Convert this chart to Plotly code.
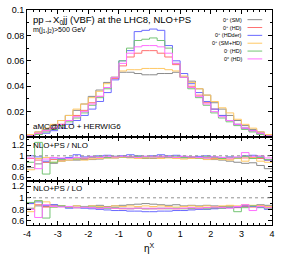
import numpy as np
import plotly.graph_objects as go
from plotly.subplots import make_subplots

# bin edges in eta^X
eta_edges = [-4 + 0.25 * i for i in range(33)]

labels = ["0<sup>+</sup> (SM)", "0<sup>+</sup> (HD)", "0<sup>+</sup> (HDder)",
          "0<sup>+</sup> (SM+HD)", "0<sup>-</sup> (HD)", "0<sup>±</sup> (HD)"]
colors = ["#8c8c8c", "#ff7070", "#6a6aff", "#ffc864", "#74c474", "#ff70ff"]

sm = [0.002, 0.004, 0.006, 0.009, 0.013, 0.017, 0.021, 0.026, 0.032, 0.037, 0.043, 0.047, 0.051, 0.051, 0.050, 0.049,
      0.049, 0.050, 0.050, 0.051, 0.047, 0.044, 0.038, 0.033, 0.027, 0.022, 0.017, 0.013, 0.009, 0.006, 0.004, 0.002]
hd = [0.001, 0.003, 0.005, 0.007, 0.010, 0.013, 0.017, 0.021, 0.027, 0.032, 0.039, 0.046, 0.056, 0.063, 0.066, 0.068,
      0.068, 0.066, 0.063, 0.057, 0.047, 0.040, 0.033, 0.027, 0.022, 0.017, 0.013, 0.010, 0.007, 0.005, 0.003, 0.001]
hdder = [0.001, 0.002, 0.003, 0.005, 0.007, 0.010, 0.013, 0.017, 0.022, 0.028, 0.035, 0.045, 0.060, 0.068, 0.083, 0.084,
         0.085, 0.084, 0.072, 0.060, 0.050, 0.042, 0.035, 0.028, 0.022, 0.017, 0.013, 0.010, 0.007, 0.005, 0.003, 0.001]
smhd = [0.002, 0.004, 0.007, 0.010, 0.013, 0.017, 0.022, 0.026, 0.031, 0.036, 0.042, 0.047, 0.052, 0.053, 0.053, 0.054,
        0.054, 0.054, 0.053, 0.052, 0.048, 0.043, 0.038, 0.033, 0.028, 0.023, 0.019, 0.014, 0.010, 0.007, 0.004, 0.002]
minus_hd = [0.001, 0.002, 0.004, 0.006, 0.009, 0.012, 0.015, 0.019, 0.025, 0.031, 0.038, 0.047, 0.060, 0.070, 0.076, 0.077,
            0.078, 0.076, 0.070, 0.058, 0.047, 0.038, 0.031, 0.025, 0.019, 0.015, 0.012, 0.009, 0.006, 0.004, 0.002, 0.001]
pm_hd = [0.001, 0.003, 0.005, 0.007, 0.010, 0.013, 0.016, 0.020, 0.026, 0.032, 0.039, 0.047, 0.058, 0.066, 0.071, 0.072,
         0.072, 0.071, 0.066, 0.058, 0.047, 0.039, 0.032, 0.026, 0.020, 0.016, 0.013, 0.010, 0.007, 0.005, 0.003, 0.001]

r_nlo_sm = [0.78, 0.85, 0.88, 0.86, 0.90, 0.92, 0.92, 0.93, 0.93, 0.94, 0.96, 0.96, 0.97, 0.98, 0.96, 0.95,
            0.95, 0.96, 0.97, 0.96, 0.96, 0.95, 0.96, 0.94, 0.93, 0.92, 0.90, 0.88, 0.86, 0.87, 0.82, 0.76]
r_nlo_hd = [0.95, 0.92, 0.88, 0.93, 0.92, 0.95, 0.94, 0.95, 0.96, 0.97, 0.97, 0.98, 0.99, 0.98, 0.98, 0.98,
            0.99, 0.98, 0.98, 0.97, 0.98, 0.97, 0.96, 0.97, 0.95, 0.96, 0.94, 0.95, 0.96, 0.97, 0.95, 0.92]
r_nlo_hdder = [1.00, 0.98, 0.90, 0.96, 0.95, 0.97, 1.02, 0.98, 0.99, 1.00, 1.01, 0.99, 1.00, 1.02, 1.00, 0.99,
               1.00, 1.02, 1.00, 1.01, 0.99, 0.98, 0.99, 1.00, 0.98, 0.97, 0.98, 0.96, 1.00, 1.01, 0.98, 0.92]
r_nlo_smhd = [0.74, 0.95, 0.97, 0.88, 0.90, 0.92, 0.93, 0.92, 0.94, 0.95, 0.96, 0.96, 0.97, 0.96, 0.95, 0.96,
              0.96, 0.95, 0.96, 0.95, 0.94, 0.95, 0.95, 0.93, 0.94, 0.93, 0.92, 0.95, 0.90, 0.96, 0.90, 0.88]
r_nlo_minus = [0.88, 1.25, 0.66, 0.88, 0.93, 0.95, 0.94, 0.96, 0.97, 0.98, 0.97, 0.99, 0.98, 0.97, 0.99, 0.98,
               0.98, 0.99, 0.97, 0.98, 0.97, 0.98, 0.96, 0.98, 0.97, 0.95, 0.97, 0.96, 0.99, 0.95, 0.97, 0.93]
r_nlo_pm = [0.96, 0.76, 0.94, 0.97, 0.96, 0.95, 0.97, 0.96, 0.98, 0.97, 0.99, 0.98, 0.99, 0.98, 0.97, 0.99,
            0.98, 0.99, 0.98, 0.97, 0.99, 0.98, 0.97, 0.96, 0.98, 0.97, 0.96, 0.98, 1.06, 0.99, 1.00, 0.96]

r_lo_sm = [0.82, 0.86, 0.85, 0.88, 0.86, 0.85, 0.86, 0.85, 0.86, 0.87, 0.85, 0.86, 0.87, 0.88, 0.89, 0.90,
           0.89, 0.88, 0.87, 0.88, 0.86, 0.87, 0.86, 0.87, 0.86, 0.85, 0.86, 0.85, 0.87, 0.86, 0.88, 0.87]
r_lo_hd = [0.90, 0.88, 0.84, 0.86, 0.85, 0.84, 0.83, 0.84, 0.83, 0.82, 0.83, 0.82, 0.81, 0.82, 0.82, 0.81,
           0.82, 0.81, 0.82, 0.81, 0.82, 0.81, 0.82, 0.83, 0.82, 0.83, 0.84, 0.83, 0.85, 0.84, 0.86, 0.84]
r_lo_hdder = [0.90, 0.93, 0.87, 0.88, 0.85, 0.82, 0.83, 0.82, 0.81, 0.80, 0.79, 0.78, 0.78, 0.77, 0.77, 0.76,
              0.76, 0.77, 0.77, 0.78, 0.78, 0.79, 0.80, 0.80, 0.81, 0.82, 0.83, 0.84, 0.86, 0.85, 0.83, 0.80]
r_lo_smhd = [0.76, 0.95, 0.93, 0.84, 0.86, 0.85, 0.86, 0.85, 0.86, 0.85, 0.84, 0.86, 0.85, 0.86, 0.85, 0.86,
             0.85, 0.86, 0.85, 0.84, 0.85, 0.86, 0.85, 0.86, 0.85, 0.86, 0.87, 0.86, 0.88, 0.87, 0.86, 0.85]
r_lo_minus = [0.92, 0.95, 0.65, 0.84, 0.86, 0.84, 0.83, 0.85, 0.84, 0.83, 0.82, 0.83, 0.82, 0.81, 0.82, 0.81,
              0.81, 0.82, 0.81, 0.82, 0.81, 0.82, 0.82, 0.81, 0.83, 0.82, 0.84, 0.76, 0.83, 0.86, 0.84, 0.82]
r_lo_pm = [0.80, 0.66, 0.88, 0.85, 0.84, 0.85, 0.83, 0.84, 0.83, 0.82, 0.83, 0.82, 0.82, 0.81, 0.82, 0.82,
           0.81, 0.82, 0.82, 0.81, 0.82, 0.83, 0.82, 0.83, 0.84, 0.83, 0.82, 0.85, 0.88, 0.78, 0.85, 0.83]

main_series = [sm, hd, hdder, smhd, minus_hd, pm_hd]
ratio_nlo = [r_nlo_sm, r_nlo_hd, r_nlo_hdder, r_nlo_smhd, r_nlo_minus, r_nlo_pm]
ratio_lo = [r_lo_sm, r_lo_hd, r_lo_hdder, r_lo_smhd, r_lo_minus, r_lo_pm]

xtick_vals = [-4, -3, -2, -1, 0, 1, 2, 3, 4]
xtick_text = ["-4", "-3", "-2", "-1", "0", "1", "2", "3", "4"]
main_yticks = [0, 0.02, 0.04, 0.06, 0.08, 0.1]
main_ytext = ["0", "0.02", "0.04", "0.06", "0.08", "0.1"]
ratio_yticks = [0.6, 0.8, 1.0, 1.2]
ratio_ytext = ["0.6", "0.8", "1", "1.2"]

FONT = "Liberation Sans, Arial, sans-serif"

fig = make_subplots(rows=3, cols=1, shared_xaxes=True, vertical_spacing=0,
                    row_heights=[130, 45, 45])

def step(vals):
    return list(vals) + [vals[-1]]

for row, group in ((1, main_series), (2, ratio_nlo), (3, ratio_lo)):
    for vals, col, lab in zip(group, colors, labels):
        fig.add_trace(go.Scatter(x=eta_edges, y=step(vals), mode="lines",
                                 line=dict(color=col, width=1, shape="hv"),
                                 name=lab, showlegend=False, hoverinfo="skip"), row=row, col=1)

axis_common = dict(showline=True, linecolor="black", linewidth=1, mirror="allticks",
                   ticks="inside", tickcolor="black", showgrid=False, zeroline=False,
                   tickfont=dict(family=FONT, size=9, color="black"))

for r in (1, 2, 3):
    fig.update_xaxes(range=[-4, 4], tickvals=xtick_vals, ticktext=xtick_text, ticklen=4,
                     minor=dict(ticks="inside", dtick=0.2, tick0=0, ticklen=2, tickcolor="black"),
                     showticklabels=(r == 3), row=r, col=1, **axis_common)

fig.update_yaxes(range=[0, 0.1], tickvals=main_yticks, ticktext=main_ytext, ticklen=4,
                 minor=dict(ticks="inside", dtick=0.01, tick0=0, ticklen=2, tickcolor="black"),
                 row=1, col=1, **axis_common)
for r, top in ((2, 1.35), (3, 1.29)):
    fig.update_yaxes(range=[0.53, top], tickvals=ratio_yticks, ticktext=ratio_ytext, ticklen=4,
                     minor=dict(ticks="inside", dtick=0.1, tick0=0, ticklen=2, tickcolor="black"),
                     row=r, col=1, **axis_common)
    fig.add_hline(y=1, line=dict(color="#909090", width=1, dash="dot"), row=r, col=1)

fig.add_annotation(text="pp→X<sub>0</sub>jj (VBF) at the LHC8, NLO+PS", xref="paper", yref="paper",
                   x=0.015, y=0.992, xanchor="left", yanchor="top", showarrow=False,
                   font=dict(family=FONT, size=9.5, color="black"))
fig.add_annotation(text="m(j<sub>1</sub>,j<sub>2</sub>)>500 GeV", xref="paper", yref="paper",
                   x=0.015, y=0.935, xanchor="left", yanchor="top", showarrow=False,
                   font=dict(family=FONT, size=7, color="black"))
fig.add_annotation(text="aMC@NLO + HERWIG6", xref="paper", yref="paper",
                   x=0.015, y=0.428, xanchor="left", yanchor="bottom", showarrow=False,
                   font=dict(family=FONT, size=8, color="black"))
fig.add_annotation(text="NLO+PS / NLO", xref="paper", yref="paper",
                   x=0.015, y=0.402, xanchor="left", yanchor="top", showarrow=False,
                   font=dict(family=FONT, size=8, color="black"))
fig.add_annotation(text="NLO+PS / LO", xref="paper", yref="paper",
                   x=0.015, y=0.199, xanchor="left", yanchor="top", showarrow=False,
                   font=dict(family=FONT, size=8, color="black"))
fig.add_annotation(text="η<sup>X</sup>", xref="paper", yref="paper",
                   x=0.5, y=-0.07, xanchor="center", yanchor="top", showarrow=False,
                   font=dict(family=FONT, size=10, color="black"))

# legend drawn manually (text right-aligned, line sample to the right)
for i, (lab, col) in enumerate(zip(labels, colors)):
    yy = 0.955 - i * 0.0365
    fig.add_annotation(text=lab, xref="paper", yref="paper", x=0.885, y=yy,
                       xanchor="right", yanchor="middle", showarrow=False,
                       font=dict(family=FONT, size=5.5, color="black"))
    fig.add_shape(type="line", xref="paper", yref="paper", x0=0.9, x1=0.96, y0=yy, y1=yy,
                  line=dict(color=col, width=1))

fig.update_layout(width=287, height=258, margin=dict(l=27, r=15, t=5, b=33),
                  paper_bgcolor="white", plot_bgcolor="white", showlegend=False,
                  hovermode=False,
                  font=dict(family=FONT, size=9, color="black"))

fig.write_html("out.html", config={"displayModeBar": False, "staticPlot": True},
               post_script="document.body.style.margin='0px';document.body.style.padding='0px';")
